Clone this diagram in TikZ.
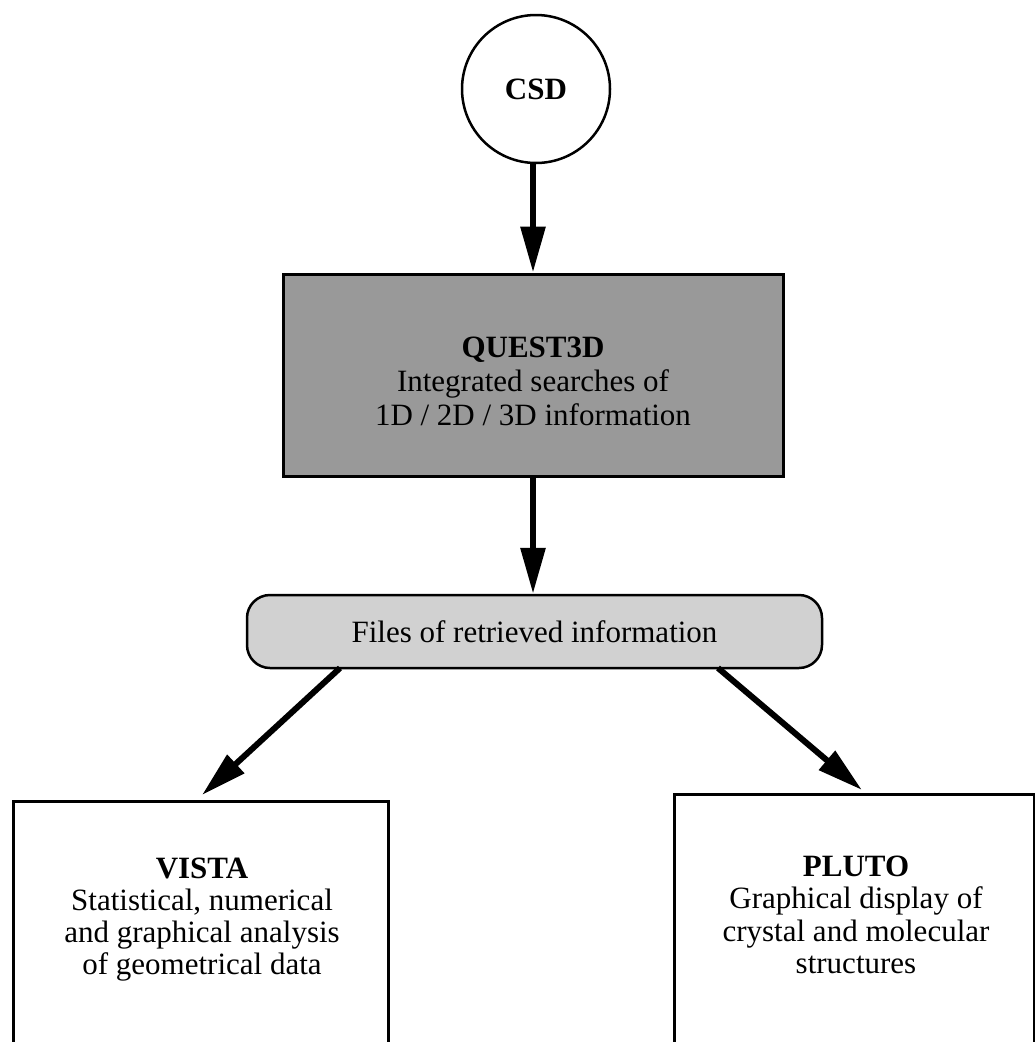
\documentclass[tikz,border=0pt]{standalone}
\usepackage{fontspec}
\setmainfont{Liberation Serif}
\usetikzlibrary{arrows.meta}
\begin{document}
\begin{tikzpicture}[x=1pt,y=-1pt,
  txt/.style={font=\fontsize{31}{33}\selectfont, align=center, inner sep=0pt},
  arr/.style={line width=6pt, -{Triangle[length=46pt,width=24pt]}},
  boxframe/.style={draw, line width=3pt, inner sep=0pt}
]
\useasboundingbox (0,0) rectangle (1035,1042);
\clip (0,0) rectangle (1035,1042);

% CSD circle
\node[circle, draw, line width=2.5pt, minimum size=148pt, inner sep=0pt,
      font=\fontsize{31}{33}\selectfont\bfseries] (csd) at (536,89) {CSD};

% QUEST3D box
\node[boxframe, fill=black!40, minimum width=500pt, minimum height=202pt] (quest) at (533,375) {};
\node[txt, font=\fontsize{31}{34}\selectfont] (questtxt) at (533,381)
  {\textbf{QUEST3D}\\Integrated searches of\\1D / 2D / 3D information};

% Files pill
\node[draw, line width=2.5pt, rounded corners=23pt, fill=black!18,
      minimum width=575pt, minimum height=73pt, inner sep=0pt,
      font=\fontsize{31}{33}\selectfont] (pill) at (534.5,631.5)
  {Files of retrieved information};

% VISTA box
\node[boxframe, fill=white, minimum width=375pt, minimum height=270pt, anchor=north west] (vista) at (12,800) {};
\node[txt, font=\fontsize{31}{32}\selectfont] (vistatxt) at (202,920)
  {\textbf{VISTA}\\Statistical, numerical\\and graphical analysis\\of geometrical data};

% PLUTO box
\node[boxframe, fill=white, minimum width=360pt, minimum height=270pt, anchor=north west] (pluto) at (673,793) {};
\node[txt, font=\fontsize{31}{32.5}\selectfont] (plutotxt) at (856,915)
  {\textbf{PLUTO}\\Graphical display of\\crystal and molecular\\structures};

% connector end points
\coordinate (pillL) at (340,668);
\coordinate (pillR) at (718,668);
\coordinate (vtip) at (202,795);
\coordinate (ptip) at (862,790);

% arrows
\draw[arr] (csd.south -| quest.north) -- (quest.north);
\draw[arr] (quest.south) -- (quest.south |- pill.north);
\draw[arr] (pillL) -- (vtip);
\draw[arr] (pillR) -- (ptip);
\end{tikzpicture}
\end{document}
